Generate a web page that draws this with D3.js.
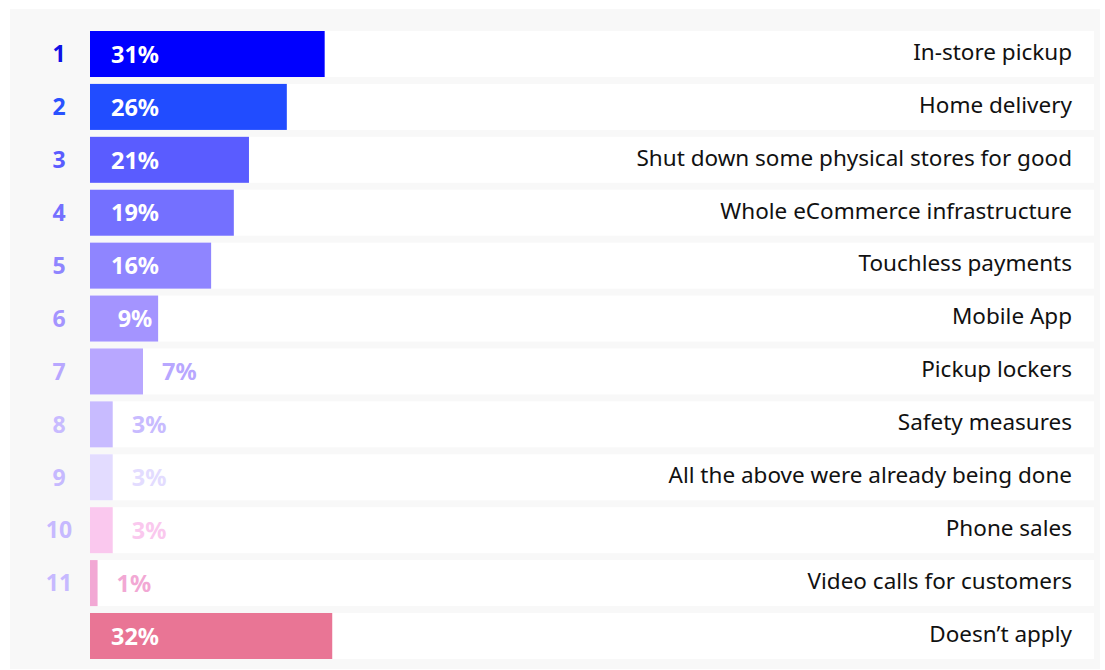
<!DOCTYPE html>
<html>
<head>
<meta charset="utf-8">
<script src="https://cdn.jsdelivr.net/npm/d3@7"></script>
<style>
  html, body { margin: 0; padding: 0; background: #ffffff; }
  svg { display: block; }
  text { font-family: "Noto Sans", "Open Sans", sans-serif; }
</style>
</head>
<body>
<svg id="chart" width="1105" height="670"></svg>
<script>
const categories = [
  "In-store pickup",
  "Home delivery",
  "Shut down some physical stores for good",
  "Whole eCommerce infrastructure",
  "Touchless payments",
  "Mobile App",
  "Pickup lockers",
  "Safety measures",
  "All the above were already being done",
  "Phone sales",
  "Video calls for customers",
  "Doesn\u2019t apply"
];
const values = [31, 26, 21, 19, 16, 9, 7, 3, 3, 3, 1, 32];
const ranks = ["1", "2", "3", "4", "5", "6", "7", "8", "9", "10", "11", ""];
const barColors = ["#0000ff", "#214cff", "#5a5cff", "#7470ff", "#8f85ff", "#a494ff",
                   "#b8a7ff", "#c8bbff", "#e3dcff", "#fac8ee", "#f2a8d4", "#e97595"];
const rankColors = ["#1010e6", "#2a52ff", "#5a5cff", "#7470ff", "#8f85ff", "#a494ff",
                    "#b8a7ff", "#c8bbff", "#c6b9ff", "#c6b9ff", "#c6b9ff", "#c6b9ff"];

const svg = d3.select("#chart");

// background panel
svg.append("rect").attr("x", 10).attr("y", 9).attr("width", 1090).attr("height", 660)
  .attr("fill", "#f8f8f8");

const y = d3.scaleBand().domain(d3.range(categories.length))
  .range([31, 659]).paddingInner(6.9 / 52.9).paddingOuter(0);
const x = d3.scaleLinear().domain([0, 100]).range([90, 90 + 757]);

const rows = svg.selectAll("g.row").data(categories).join("g").attr("class", "row");

// white row backgrounds
rows.append("rect")
  .attr("x", 90).attr("y", (d, i) => y(i))
  .attr("width", 1094 - 90).attr("height", y.bandwidth())
  .attr("fill", "#ffffff");

// bars
rows.append("rect")
  .attr("x", x(0)).attr("y", (d, i) => y(i))
  .attr("width", (d, i) => x(values[i]) - x(0)).attr("height", y.bandwidth())
  .attr("fill", (d, i) => barColors[i]);

// rank numbers
rows.append("text")
  .attr("x", 59).attr("y", (d, i) => y(i) + y.bandwidth() / 2)
  .attr("dy", "0.36em").attr("text-anchor", "middle")
  .attr("font-size", 23).attr("font-weight", 700)
  .attr("fill", (d, i) => rankColors[i])
  .text((d, i) => ranks[i]);

// value labels
rows.append("text")
  .each(function (d, i) {
    const w = x(values[i]) - x(0);
    const inside = w > 60;
    d3.select(this)
      .attr("x", inside ? 135 : x(values[i]) + 19)
      .attr("text-anchor", inside ? "middle" : "start")
      .attr("fill", inside ? "#ffffff" : barColors[i]);
  })
  .attr("y", (d, i) => y(i) + y.bandwidth() / 2)
  .attr("dy", "0.37em")
  .attr("font-size", 23.5).attr("font-weight", 700)
  .text((d, i) => values[i] + "%");

// category labels
rows.append("text")
  .attr("x", 1072).attr("y", (d, i) => y(i) + y.bandwidth() / 2)
  .attr("dy", "0.26em").attr("text-anchor", "end")
  .attr("font-size", 22.5).attr("fill", "#111111")
  .text(d => d);
</script>
</body>
</html>
